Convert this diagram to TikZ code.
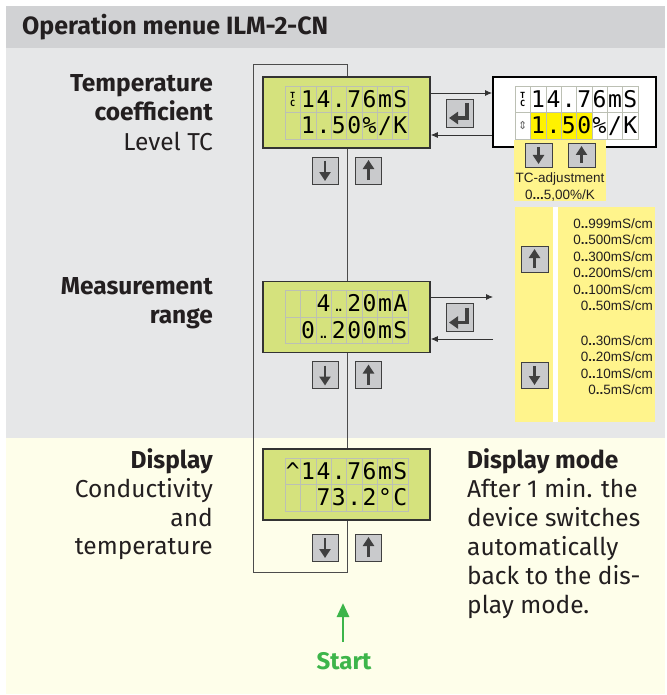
\documentclass[tikz,border=0pt]{standalone}
\usepackage{fontspec}
\setmainfont{Fira Sans}
\newfontfamily\lcdfont{DejaVu Sans Mono}
\newfontfamily\arialfont{Liberation Sans}
\newfontfamily\symfont{DejaVu Sans}
\usetikzlibrary{positioning,arrows.meta}

\definecolor{hdrgray}{HTML}{D1D2D4}
\definecolor{upgray}{HTML}{E6E7E8}
\definecolor{cream}{HTML}{FEFEEA}
\definecolor{lcdgreen}{HTML}{D5E27D}
\definecolor{gridgray}{HTML}{BCC0B4}
\definecolor{btngray}{HTML}{C9CACC}
\definecolor{adjyellow}{HTML}{FFF48C}
\definecolor{hiyellow}{HTML}{FFF200}
\definecolor{startgreen}{HTML}{3DB54A}
\definecolor{inkgray}{HTML}{231F20}

% one row of LCD cells: prefix, left x, centre y, characters
\newcommand{\lcdrow}[4]{\foreach \c [count=\i from 0] in {#4} \node[cell] (#1-\i) at ({#2+7.7+\i*15.375},#3) {\c};}
\newcommand{\twodots}{{\fontsize{15}{15}\selectfont.\kern-0.38em.}}

\begin{document}
\begin{tikzpicture}[x=1pt,y=-1pt,
  arr/.style={-{Latex[length=7pt,width=6pt]},draw=black!80,line width=0.8pt},
  lbl/.style={anchor=base east,inner sep=0pt,text=inkgray,font=\fontsize{24.5}{24.5}\selectfont},
  blbl/.style={lbl,font=\bfseries\fontsize{24.5}{24.5}\selectfont},
  rtxt/.style={anchor=base west,inner sep=0pt,text=inkgray,font=\fontsize{24.5}{24.5}\selectfont},
  lcd/.style={draw=black!80,line width=1.6pt,fill=lcdgreen,minimum width=167pt,minimum height=71pt,inner sep=0pt},
  cell/.style={draw=gridgray,line width=0.5pt,minimum width=15.375pt,minimum height=26.5pt,inner sep=0pt,
    text height=17pt,text depth=1pt,font=\lcdfont\fontsize{23}{23}\selectfont},
  tcicon/.style={inner sep=0pt,align=center,font=\lcdfont\bfseries\fontsize{8.5}{8}\selectfont},
  btn/.style={draw=black!75,line width=0.9pt,fill=btngray,minimum width=26pt,minimum height=27pt,inner sep=0pt},
  btndn/.style={btn,path picture={\draw[line width=2.8pt,-{Triangle[width=11pt,length=9pt]}]
    ([yshift=-4pt]path picture bounding box.north) -- ([yshift=3pt]path picture bounding box.south);}},
  btnup/.style={btn,path picture={\draw[line width=2.8pt,-{Triangle[width=11pt,length=9pt]}]
    ([yshift=4pt]path picture bounding box.south) -- ([yshift=-3pt]path picture bounding box.north);}},
  btnent/.style={btn,minimum width=27pt,minimum height=28pt,path picture={\draw[line width=3.4pt,-{Triangle[width=12pt,length=9pt]}]
    ([xshift=-6pt,yshift=-4pt]path picture bounding box.north east) |- ([xshift=3pt,yshift=9pt]path picture bounding box.south west);}},
  adjtxt/.style={inner sep=0pt,text=inkgray,font=\arialfont\fontsize{13.5}{13.5}\selectfont},
  rnglbl/.style={adjtxt,anchor=base east}]
\useasboundingbox (0,0) rectangle (666,695);

% background bands
\fill[hdrgray] (6,6) rectangle (665,48);
\fill[upgray] (6,48) rectangle (665,438);
\fill[cream] (6,438) rectangle (665,694);
\node[anchor=base west,inner sep=0pt,text=inkgray,font=\bfseries\fontsize{25}{25}\selectfont] (title) at (22,35) {Operation menue ILM-2-CN};

% frame behind the displays
\draw[draw=black!70,line width=0.9pt] (253,64) rectangle (347,572);

% left labels
\node[blbl] (tc1) at (213,92) {Temperature};
\node[blbl] (tc2) at (213,121) {coefficient};
\node[lbl] (tc3) at (213,150) {Level TC};
\node[blbl] (mr1) at (213,294) {Measurement};
\node[blbl] (mr2) at (213,323) {range};
\node[blbl] (dp1) at (213,468) {Display};
\node[lbl] (dp2) at (213,497) {Conductivity};
\node[lbl] (dp3) at (213,526) {and};
\node[lbl] (dp4) at (213,554) {temperature};

% display 1: temperature coefficient
\node[lcd] (d1) at (346.5,112.5) {};
\lcdrow{d1a}{285}{99.25}{{},1,4,.,7,6,m,S}
\lcdrow{d1b}{285}{125.75}{{},1,.,5,0,\%,/,K}
\node[tcicon] (d1icon) at (d1a-0) {T\\C};
\node[btndn] (d1dn) at (325,170.5) {};
\node[btnup] (d1up) at (368.5,170.5) {};
\node[btnent] (d1ent) at (459.5,113) {};

% TC adjustment display
\node[draw=black,line width=2pt,fill=white,minimum width=163pt,minimum height=70pt] (tc) at (574.5,112) {};
\fill[hiyellow] (530.4,112.5) rectangle (591.9,139);
\lcdrow{tca}{515}{99.25}{{},1,4,.,7,6,m,S}
\lcdrow{tcb}{515}{125.75}{{},1,.,5,0,\%,/,K}
\node[tcicon] (tcicon) at (tca-0) {T\\C};
\node[inner sep=0pt,text=black!60,font=\symfont\fontsize{11}{11}\selectfont] (tcsel) at (tcb-0) {⇕};
\node[fill=adjyellow,anchor=north west,minimum width=92pt,minimum height=61pt,inner sep=0pt] (tcadj) at (514,140) {};
\node[btndn,minimum width=27pt,minimum height=24pt] (tcdn) at (538.5,155) {};
\node[btnup,minimum width=27pt,minimum height=24pt] (tcup) at (581.5,155) {};
\node[adjtxt] (tcadj1) at (560,179) {TC-adjustment};
\node[adjtxt] (tcadj2) at (560,195) {0\textbf{...}5,00\%/K};

\draw[arr] ([yshift=19.5pt]d1.east) -- ([yshift=19.5pt]d1.east -| tc.west);
\draw[arr] ([yshift=-22.5pt]d1.east -| tc.west) -- ([yshift=-22.5pt]d1.east);

% display 2: measurement range
\node[lcd] (d2) at (346.5,317) {};
\lcdrow{d2a}{285}{303.75}{{},{},4,\twodots,2,0,m,A}
\lcdrow{d2b}{285}{330.25}{{},0,\twodots,2,0,0,m,S}
\node[btndn] (d2dn) at (325,375) {};
\node[btnup] (d2up) at (368.5,375) {};
\node[btnent] (d2ent) at (459.5,317.5) {};
\coordinate (d2out) at (493,297);
\coordinate (d2in) at (493,339);
\draw[arr] (d2.east |- d2out) -- (d2out);
\draw[arr] (d2in) -- (d2.east |- d2in);

% range list
\node[fill=adjyellow,anchor=north west,minimum width=140pt,minimum height=215pt,inner sep=0pt] (rng) at (515,207) {};
\fill[white] (553,207) rectangle (558,422);
\node[btnup,minimum width=27pt,minimum height=26pt] (rngup) at (534.5,259) {};
\node[btndn,minimum width=27pt,minimum height=26pt] (rngdn) at (534.5,375) {};
\foreach \v [count=\k] in {999,500,300,200,100,50}
  \node[rnglbl] (rla\k) at (653,{228+(\k-1)*16.5}) {0\textbf{..}\v mS/cm};
\foreach \v [count=\k] in {30,20,10,5}
  \node[rnglbl] (rlb\k) at (653,{345+(\k-1)*16.6}) {0\textbf{..}\v mS/cm};

% display 3: conductivity and temperature
\node[lcd] (d3) at (346.5,484.5) {};
\lcdrow{d3a}{285}{471.25}{\textasciicircum,1,4,.,7,6,m,S}
\lcdrow{d3b}{285}{497.75}{{},{},7,3,.,2,°,C}
\node[btndn] (d3dn) at (325,547.5) {};
\node[btnup] (d3up) at (368.5,547.5) {};

% display mode text
\node[rtxt,font=\bfseries\fontsize{24.5}{24.5}\selectfont] (dm1) at (467,468) {Display mode};
\node[rtxt] (dm2) at (467,497) {After 1 min. the};
\node[rtxt] (dm3) at (467,526) {device switches};
\node[rtxt] (dm4) at (467,555) {automatically};
\node[rtxt] (dm5) at (467,584) {back to the dis-};
\node[rtxt] (dm6) at (467,613) {play mode.};

% start
\node[anchor=base,text=startgreen,font=\bfseries\fontsize{24}{24}\selectfont] (start) at (344,669) {Start};
\coordinate (starttip) at (343,603);
\draw[draw=startgreen,line width=2.8pt,-{Triangle[width=12pt,length=14pt]}] (starttip |- 0,642) -- (starttip);
\end{tikzpicture}
\end{document}
